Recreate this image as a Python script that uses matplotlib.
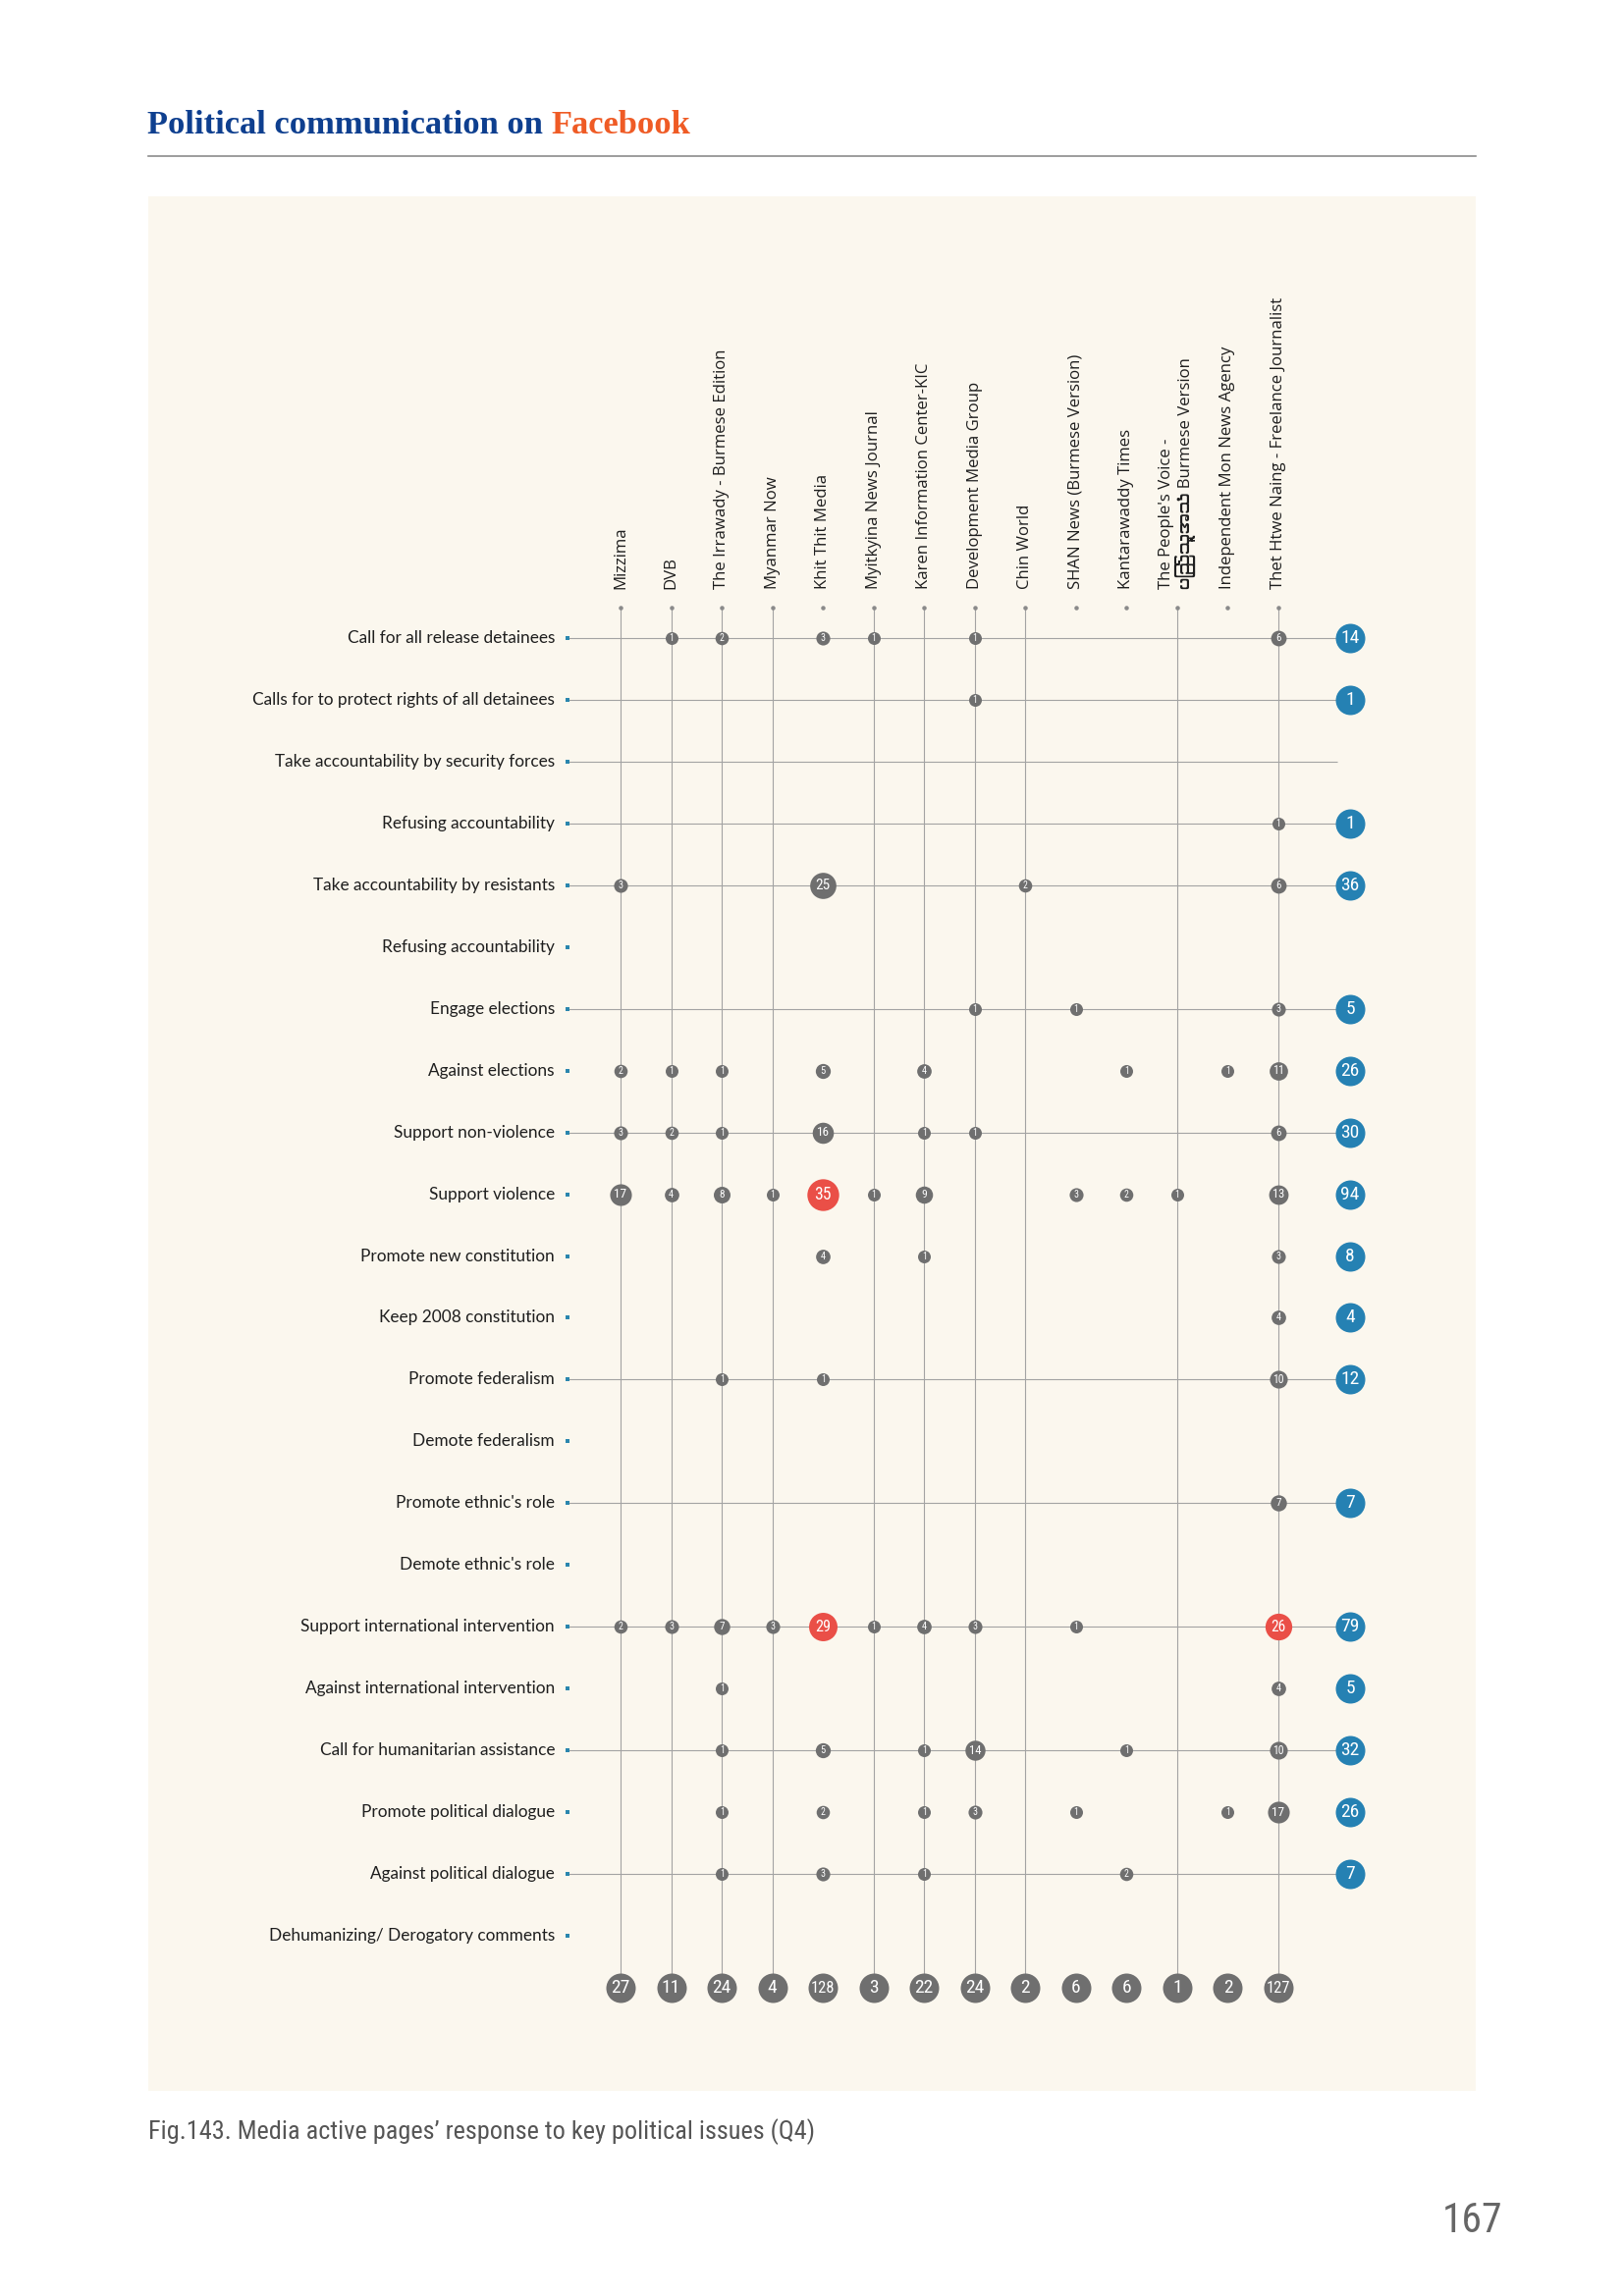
import numpy as np
import matplotlib
matplotlib.use("Agg")
import matplotlib.pyplot as plt
from matplotlib import font_manager as fm
from matplotlib.patches import Rectangle
from matplotlib.lines import Line2D
from matplotlib.ft2font import FT2Font

# ---------------- data ----------------
media = [
    "Mizzima",
    "DVB",
    "The Irrawady - Burmese Edition",
    "Myanmar Now",
    "Khit Thit Media",
    "Myitkyina News Journal",
    "Karen Information Center-KIC",
    "Development Media Group",
    "Chin World",
    "SHAN News (Burmese Version)",
    "Kantarawaddy Times",
    "The People's Voice -\nပြည်သူ့အသံ Burmese Version",
    "Independent Mon News Agency",
    "Thet Htwe Naing - Freelance Journalist",
]

issues = [
    "Call for all release detainees",
    "Calls for to protect rights of all detainees",
    "Take accountability by security forces",
    "Refusing accountability",
    "Take accountability by resistants",
    "Refusing accountability",
    "Engage elections",
    "Against elections",
    "Support non-violence",
    "Support violence",
    "Promote new constitution",
    "Keep 2008 constitution",
    "Promote federalism",
    "Demote federalism",
    "Promote ethnic's role",
    "Demote ethnic's role",
    "Support international intervention",
    "Against international intervention",
    "Call for humanitarian assistance",
    "Promote political dialogue",
    "Against political dialogue",
    "Dehumanizing/ Derogatory comments",
]

#           Miz DVB Irr MN  KT My KIC DMG Chn SHN Knt PV Mon Thet
counts = [
    [0, 1, 2, 0, 3, 1, 0, 1, 0, 0, 0, 0, 0, 6],
    [0, 0, 0, 0, 0, 0, 0, 1, 0, 0, 0, 0, 0, 0],
    [0, 0, 0, 0, 0, 0, 0, 0, 0, 0, 0, 0, 0, 0],
    [0, 0, 0, 0, 0, 0, 0, 0, 0, 0, 0, 0, 0, 1],
    [3, 0, 0, 0, 25, 0, 0, 0, 2, 0, 0, 0, 0, 6],
    [0, 0, 0, 0, 0, 0, 0, 0, 0, 0, 0, 0, 0, 0],
    [0, 0, 0, 0, 0, 0, 0, 1, 0, 1, 0, 0, 0, 3],
    [2, 1, 1, 0, 5, 0, 4, 0, 0, 0, 1, 0, 1, 11],
    [3, 2, 1, 0, 16, 0, 1, 1, 0, 0, 0, 0, 0, 6],
    [17, 4, 8, 1, 35, 1, 9, 0, 0, 3, 2, 1, 0, 13],
    [0, 0, 0, 0, 4, 0, 1, 0, 0, 0, 0, 0, 0, 3],
    [0, 0, 0, 0, 0, 0, 0, 0, 0, 0, 0, 0, 0, 4],
    [0, 0, 1, 0, 1, 0, 0, 0, 0, 0, 0, 0, 0, 10],
    [0, 0, 0, 0, 0, 0, 0, 0, 0, 0, 0, 0, 0, 0],
    [0, 0, 0, 0, 0, 0, 0, 0, 0, 0, 0, 0, 0, 7],
    [0, 0, 0, 0, 0, 0, 0, 0, 0, 0, 0, 0, 0, 0],
    [2, 3, 7, 3, 29, 1, 4, 3, 0, 1, 0, 0, 0, 26],
    [0, 0, 1, 0, 0, 0, 0, 0, 0, 0, 0, 0, 0, 4],
    [0, 0, 1, 0, 5, 0, 1, 14, 0, 0, 1, 0, 0, 10],
    [0, 0, 1, 0, 2, 0, 1, 3, 0, 1, 0, 0, 1, 17],
    [0, 0, 1, 0, 3, 0, 1, 0, 0, 0, 2, 0, 0, 0],
    [0, 0, 0, 0, 0, 0, 0, 0, 0, 0, 0, 0, 0, 0],
]

row_totals = [14, 1, None, 1, 36, None, 5, 26, 30, 94, 8, 4, 12, None,
              7, None, 79, 5, 32, 26, 7, None]
col_totals = [27, 11, 24, 4, 128, 3, 22, 24, 2, 6, 6, 1, 2, 127]

title_main = "Political communication on"
title_accent = "Facebook"
caption = "Fig.143. Media active pages\u2019 response to key political issues (Q4)"
page_number = "167"

# ---------------- style ----------------
rows_with_line = [0, 1, 2, 3, 4, 6, 8, 12, 14, 16, 18, 20]
cols_with_line = [0, 1, 2, 3, 5, 6, 7, 8, 11, 13]
RED_FROM = 26

C_BG = "#FBF7EE"
C_DOT = "#6F6F6F"
C_RED = "#EA4F47"
C_BLUE = "#2581B3"
C_LINE = "#A3A3A3"
C_TEXT = "#1E1E1E"
C_TITLE = "#0E3F8F"
C_ORANGE = "#EF5B25"

W, H, DPI = 1654, 2339, 100

names = {f.name for f in fm.fontManager.ttflist}


def pick(*cands):
    for c in cands:
        if c in names:
            return c
    return "DejaVu Sans"


NARROW = pick("Roboto Condensed", "Liberation Sans Narrow", "Open Sans Condensed", "Roboto")
NARROW_IS_NARROW = NARROW != "Roboto"
ROWFONT = pick("Lato", "Open Sans", "Noto Sans")
COLFONT = pick("Open Sans", "Noto Sans", "Lato")
TITLEFONT = pick("Liberation Serif", "DejaVu Serif")

# find a font with Myanmar glyphs for the Burmese text
MYANMAR = None
for f in fm.fontManager.ttflist:
    low = (f.name + f.fname).lower()
    if "myanmar" in low or "padauk" in low:
        try:
            if 0x1015 in FT2Font(f.fname).get_charmap():
                MYANMAR = f.name
                break
        except Exception:
            pass
colfam = [COLFONT] + ([MYANMAR] if MYANMAR else []) + ["DejaVu Sans"]

# ---------------- figure / axes ----------------
fig = plt.figure(figsize=(W / DPI, H / DPI), dpi=DPI)
fig.patch.set_facecolor("white")

COL0_PX, COL_STEP_PX = 632.0, 51.54
ROW0_PX, ROW_STEP_PX = 650.0, 62.95

ax = fig.add_axes([0, 0, 1, 1])
ax.set_xlim(-COL0_PX / COL_STEP_PX, (W - COL0_PX) / COL_STEP_PX)
ax.set_ylim((H - ROW0_PX) / ROW_STEP_PX, -ROW0_PX / ROW_STEP_PX)
ax.axis("off")


def px2x(px):
    return (px - COL0_PX) / COL_STEP_PX


def px2y(py):
    return (py - ROW0_PX) / ROW_STEP_PX


PT = 72.0 / DPI  # points per pixel

# panel
ax.add_patch(Rectangle((px2x(151), px2y(200)),
                       (1503 - 151) / COL_STEP_PX, (2130 - 200) / ROW_STEP_PX,
                       facecolor=C_BG, edgecolor="none", zorder=0))

n_rows, n_cols = len(issues), len(media)
cols = np.arange(n_cols)
rows = np.arange(n_rows)
y_header = px2y(619)
y_totals = px2y(2025)
x_rowtot = px2x(1375)

# grid lines
ax.vlines(cols_with_line, y_header, y_totals, colors=C_LINE, linewidth=0.8, zorder=1)
ax.hlines(rows_with_line, px2x(578), px2x(1362), colors=C_LINE, linewidth=0.8, zorder=1)

# header dots
ax.scatter(cols, np.full(n_cols, y_header), s=(4.5 * PT) ** 2, color="#8A8A8A",
           linewidths=0, zorder=2)

# row label dots
ax.scatter(np.full(n_rows, px2x(578)), rows, s=(5 * PT) ** 2, color="#2A86AE",
           marker="s", linewidths=0, zorder=2)

renderer = fig.canvas.get_renderer()


def dot_diam(v):
    return 13.0 + 0.57 * (v - 1)


dot_texts = []
arr = np.array(counts)
for i in range(n_rows):
    for j in range(n_cols):
        v = arr[i, j]
        if v <= 0:
            continue
        d = dot_diam(v)
        ax.scatter([j], [i], s=(d * PT) ** 2, color=C_RED if v >= RED_FROM else C_DOT,
                   linewidths=0, zorder=3)
        fs = 3.0 + 0.3 * d
        if not NARROW_IS_NARROW:
            fs *= 0.85
        t = ax.text(j, i, str(v), ha="center", va="center", color="white",
                    fontsize=fs, fontfamily=NARROW, zorder=4)
        dot_texts.append((t, d))

# row totals (blue)
for i, tot in enumerate(row_totals):
    if tot is None:
        continue
    ax.scatter([x_rowtot], [i], s=(30 * PT) ** 2, color=C_BLUE, linewidths=0, zorder=3)
    t = ax.text(x_rowtot, i, str(tot), ha="center", va="center", color="white",
                fontsize=14, fontfamily=NARROW, zorder=4)
    dot_texts.append((t, 30))

# column totals (grey)
for j, tot in enumerate(col_totals):
    ax.scatter([j], [y_totals], s=(30 * PT) ** 2, color=C_DOT, linewidths=0, zorder=3)
    t = ax.text(j, y_totals, str(tot), ha="center", va="center", color="white",
                fontsize=14, fontfamily=NARROW, zorder=4)
    dot_texts.append((t, 30))

# row labels
row_labels = []
for i, lab in enumerate(issues):
    t = ax.text(px2x(565), i, lab, ha="right", va="center", color=C_TEXT,
                fontsize=11, fontfamily=ROWFONT)
    row_labels.append(t)

# column labels
col_labels = []
for j, lab in enumerate(media):
    t = ax.text(j, px2y(600), lab, rotation=90, ha="center", va="bottom",
                multialignment="left", color=C_TEXT, fontsize=10, family=colfam,
                linespacing=1.0)
    col_labels.append(t)

# title, rule, caption, page number
t1 = fig.text(150 / W, 1 - 136 / H, title_main, ha="left", va="baseline",
              fontfamily=TITLEFONT, fontweight="bold", color=C_TITLE, fontsize=22)
t2 = fig.text(0.5, 1 - 136 / H, title_accent, ha="left", va="baseline",
              fontfamily=TITLEFONT, fontweight="bold", color=C_ORANGE, fontsize=22)
fig.add_artist(Line2D([151 / W, 1503 / W], [1 - 159 / H, 1 - 159 / H],
                      transform=fig.transFigure, color="#8C8C8C", linewidth=1.2))
cap = fig.text(151 / W, 1 - 2172 / H, caption, ha="left", va="center",
               fontfamily=NARROW, color="#555555", fontsize=16)
pg = fig.text(1530 / W, 1 - 2262 / H, page_number, ha="right", va="center",
              fontfamily=NARROW, color="#666666", fontsize=30)

# ---------------- fit text sizes to measured widths ----------------
def width_px(t):
    return t.get_window_extent(renderer).width


def height_px(t):
    return t.get_window_extent(renderer).height


# row labels: longest label spans ~308 px
k = 308.0 / width_px(row_labels[1])
for t in row_labels:
    t.set_fontsize(t.get_fontsize() * k)

# column labels: longest label spans ~297 px vertically
k = 297.0 / height_px(col_labels[13])
for t in col_labels:
    t.set_fontsize(t.get_fontsize() * k)

# title: total width ~552 px
w1, w2 = width_px(t1), width_px(t2)
fs = t1.get_fontsize()
space = 0.25 * fs / PT
k = 552.0 / (w1 + w2 + space)
t1.set_fontsize(fs * k)
t2.set_fontsize(fs * k)
w1 = width_px(t1)
t2.set_x((150 + w1 + 0.25 * fs * k / PT) / W)

# caption width ~680 px
cap.set_fontsize(cap.get_fontsize() * 680.0 / width_px(cap))

# numbers inside circles must fit
for t, d in dot_texts:
    w = width_px(t)
    if w > 0.82 * d:
        t.set_fontsize(t.get_fontsize() * 0.82 * d / w)

fig.savefig("out.png", dpi=DPI, facecolor="white")
